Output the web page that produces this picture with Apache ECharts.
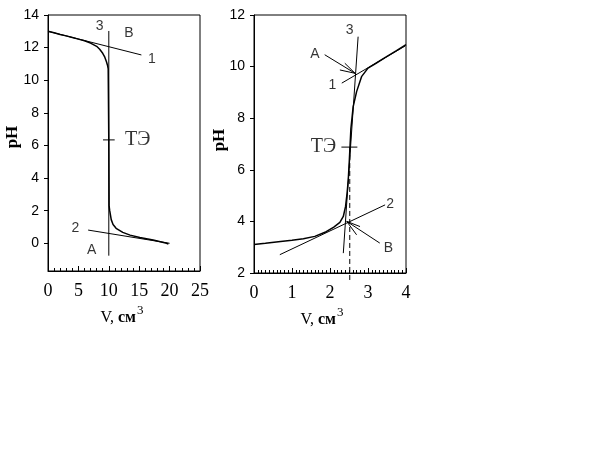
<!DOCTYPE html>
<html><head><meta charset="utf-8">
<script src="https://cdn.jsdelivr.net/npm/echarts@6/dist/echarts.min.js"></script>
<style>html,body{margin:0;padding:0;background:#fff}#c{width:614px;height:460px}</style>
</head><body><div id="c"></div>
<script>
// ---------- Left chart data ----------
const leftCurveV  = [0, 1, 2, 3, 4, 5, 6, 7, 8, 8.5, 9, 9.3, 9.6, 9.8, 9.9, 9.97, 10.0, 10.05, 10.15, 10.4, 10.7, 11.2, 12.3, 13.5, 15.1, 17.3, 19.5, 19.8];
const leftCurvePH = [13.0, 12.91, 12.81, 12.72, 12.62, 12.52, 12.42, 12.28, 12.08, 11.9, 11.65, 11.45, 11.15, 10.9, 10.7, 10.6, 6.3, 2.3, 2.0, 1.45, 1.15, 0.92, 0.67, 0.5, 0.35, 0.2, 0.0, -0.05];
const leftLine1 = [[0, 13.0], [15.36, 11.55]];
const leftLine2 = [[6.6, 0.81], [20, 0.0]];
const leftLine3 = [[10, 13.02], [10, -0.76]];
const leftTE    = [[9.05, 6.34], [10.97, 6.34]];
const leftLabelText = ['3', 'В', '1', '2', 'А'];
const leftLabelV    = [8.5, 13.3, 17.1, 4.5, 7.2];
const leftLabelPH   = [13.3, 12.88, 11.3, 0.92, -0.41];
const leftTELabel   = [[14.75, 6.34]];
const leftXTicks = [0, 5, 10, 15, 20, 25];
const leftYTicks = [0, 2, 4, 6, 8, 10, 12, 14];

// ---------- Right chart data ----------
const rightCurveV  = [0, 0.3, 0.7, 1.0, 1.3, 1.6, 1.9, 2.1, 2.26, 2.35, 2.41, 2.45, 2.48, 2.51, 2.55, 2.61, 2.7, 2.83, 3.0, 3.2, 3.5, 3.75, 4.0];
const rightCurvePH = [3.1, 3.15, 3.22, 3.27, 3.33, 3.42, 3.6, 3.78, 3.96, 4.19, 4.58, 5.1, 5.6, 6.4, 7.6, 8.45, 9.03, 9.61, 9.94, 10.12, 10.4, 10.62, 10.85];
const rightLine1 = [[2.31, 9.36], [3.98, 10.8]];
const rightLine2 = [[0.68, 2.71], [3.45, 4.64]];
const rightLine3 = [[2.35, 2.77], [2.74, 11.16]];
const rightDashed = [[2.52, 1.73], [2.52, 6.88]];
const rightTE = [[2.3, 6.88], [2.72, 6.88]];
const arrowAShaft = [[1.86, 10.46], [2.66, 9.74]];
const arrowAHead  = [[2.39, 10.13], [2.66, 9.74], [2.26, 9.87]];
const arrowBShaft = [[3.31, 3.16], [2.44, 4.0]];
const arrowBHead  = [[2.79, 3.8], [2.44, 4.0], [2.70, 3.48]];
const rightLabelText = ['3', 'А', '1', '2', 'В'];
const rightLabelV    = [2.52, 1.6, 2.06, 3.58, 3.54];
const rightLabelPH   = [11.42, 10.49, 9.29, 4.68, 2.97];
const rightTELabel   = [[1.83, 6.88]];
const rightXTicks = [0, 1, 2, 3, 4];
const rightYTicks = [2, 4, 6, 8, 10, 12];

const zip = (a, b) => a.map((v, i) => [v, b[i]]);
const labelData = (t, v, p) => t.map((s, i) => ({ value: [v[i], p[i]], name: s }));

const black = '#000';
const sans = 'Liberation Sans, Arial, sans-serif';
const serif = 'Liberation Serif, Times New Roman, serif';

function lineSeries(data, gi, width, dashed) {
  return {
    type: 'line', xAxisIndex: gi, yAxisIndex: gi, data: data, symbol: 'none',
    clip: false, silent: true, animation: false,
    lineStyle: { color: black, width: width || 1, type: dashed ? [5, 3] : 'solid' }
  };
}
function labelSeries(data, gi, font, size, bold) {
  return {
    type: 'scatter', xAxisIndex: gi, yAxisIndex: gi, data: data, symbolSize: 1,
    itemStyle: { color: 'rgba(0,0,0,0)' }, silent: true, animation: false, clip: false,
    label: { show: true, position: 'inside', formatter: p => p.name, color: black,
             fontFamily: font, fontSize: size, fontWeight: bold ? 'bold' : 'normal' }
  };
}

const xAxisCommon = {
  type: 'value',
  axisLine: { show: true, onZero: false, lineStyle: { color: black, width: 1 } },
  axisTick: { show: true, inside: true, length: 5, lineStyle: { color: black } },
  minorTick: { show: true, length: 3, lineStyle: { color: black } },
  splitLine: { show: false },
  axisLabel: { color: black, fontFamily: serif, fontSize: 18, margin: 11 }
};
const yAxisCommon = {
  type: 'value',
  axisLine: { show: true, onZero: false, lineStyle: { color: black, width: 1 } },
  axisTick: { show: true, inside: false, length: 4, lineStyle: { color: black } },
  splitLine: { show: false },
  axisLabel: { color: black, fontFamily: sans, fontSize: 14, margin: 9 }
};

const titleRich = {
  a: { font: '16px ' + serif, fill: black, lineHeight: 21, verticalAlign: 'bottom' },
  b: { font: 'bold 16px ' + serif, fill: black, lineHeight: 21, verticalAlign: 'bottom' },
  s: { font: '13px ' + serif, fill: black, lineHeight: 13, verticalAlign: 'top', padding: [0, 0, 0, 1] }
};

const option = {
  backgroundColor: '#fff',
  animation: false,
  grid: [
    { left: 48, top: 15, width: 152, height: 256, show: true, borderColor: black, borderWidth: 1, backgroundColor: 'transparent' },
    { left: 254, top: 15, width: 152, height: 258, show: true, borderColor: black, borderWidth: 1, backgroundColor: 'transparent' }
  ],
  xAxis: [
    Object.assign({}, xAxisCommon, { gridIndex: 0, min: leftXTicks[0], max: leftXTicks[leftXTicks.length - 1], interval: 5,
      minorTick: Object.assign({}, xAxisCommon.minorTick, { splitNumber: 5 }) }),
    Object.assign({}, xAxisCommon, { gridIndex: 1, min: rightXTicks[0], max: rightXTicks[rightXTicks.length - 1], interval: 1,
      minorTick: Object.assign({}, xAxisCommon.minorTick, { splitNumber: 10 }) })
  ],
  yAxis: [
    Object.assign({}, yAxisCommon, { gridIndex: 0, min: -1.7, max: 14,
      axisLabel: Object.assign({}, yAxisCommon.axisLabel, { customValues: leftYTicks }),
      axisTick: Object.assign({}, yAxisCommon.axisTick, { customValues: leftYTicks }) }),
    Object.assign({}, yAxisCommon, { gridIndex: 1, min: rightYTicks[0], max: rightYTicks[rightYTicks.length - 1], interval: 2 })
  ],
  graphic: [
    { type: 'text', x: 13, y: 137, rotation: Math.PI / 2, style: { text: 'pH', font: 'bold 17px ' + serif, fill: black, textAlign: 'center', textVerticalAlign: 'middle' } },
    { type: 'text', x: 220, y: 140, rotation: Math.PI / 2, style: { text: 'pH', font: 'bold 17px ' + serif, fill: black, textAlign: 'center', textVerticalAlign: 'middle' } },
    { type: 'text', x: 122, y: 315, style: { text: '{a|V, }{b|см}{s|3}', textAlign: 'center', textVerticalAlign: 'middle', rich: titleRich } },
    { type: 'text', x: 322, y: 317, style: { text: '{a|V, }{b|см}{s|3}', textAlign: 'center', textVerticalAlign: 'middle', rich: titleRich } }
  ],
  series: [
    lineSeries(zip(leftCurveV, leftCurvePH), 0, 1.5),
    lineSeries(leftLine1, 0, 1),
    lineSeries(leftLine2, 0, 1),
    lineSeries(leftLine3, 0, 1),
    lineSeries(leftTE, 0, 1),
    labelSeries(labelData(leftLabelText, leftLabelV, leftLabelPH), 0, sans, 14, false),
    labelSeries(leftTELabel.map(d => ({ value: d, name: 'ТЭ' })), 0, serif, 20, false),

    lineSeries(zip(rightCurveV, rightCurvePH), 1, 1.5),
    lineSeries(rightLine1, 1, 1),
    lineSeries(rightLine2, 1, 1),
    lineSeries(rightLine3, 1, 1),
    lineSeries(rightDashed, 1, 1, true),
    lineSeries(rightTE, 1, 1),
    lineSeries(arrowAShaft, 1, 1),
    lineSeries(arrowAHead, 1, 1),
    lineSeries(arrowBShaft, 1, 1),
    lineSeries(arrowBHead, 1, 1),
    labelSeries(labelData(rightLabelText, rightLabelV, rightLabelPH), 1, sans, 14, false),
    labelSeries(rightTELabel.map(d => ({ value: d, name: 'ТЭ' })), 1, serif, 20, false)
  ]
};

const chart = echarts.init(document.getElementById('c'), null, { renderer: 'canvas' });
chart.setOption(option);
</script></body></html>
